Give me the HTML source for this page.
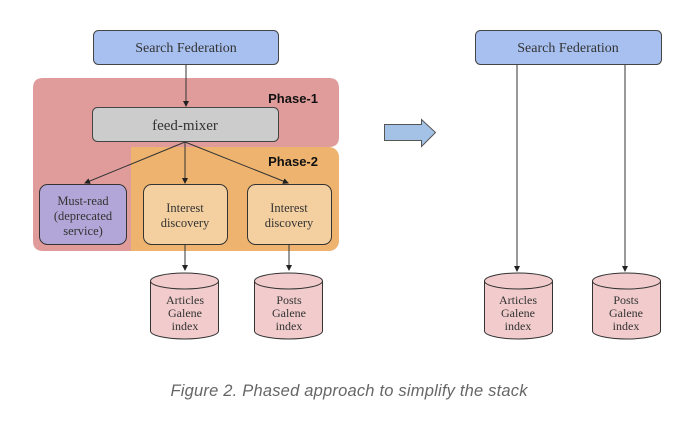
<!DOCTYPE html>
<html><head><meta charset="utf-8"><style>
html,body{margin:0;padding:0;background:#fff;width:695px;height:423px;overflow:hidden}
svg text{font-family:"Liberation Serif",serif;fill:#333}
</style></head><body>
<svg width="695" height="423" viewBox="0 0 695 423" xmlns="http://www.w3.org/2000/svg">
<defs><marker id="a" markerWidth="6" markerHeight="6" refX="5" refY="3" orient="auto" markerUnits="userSpaceOnUse"><path d="M0,0 L6,3 L0,6z" fill="#222"/></marker></defs>
<path d="M43,78 H329 Q339,78 339,88 V137 Q339,147 329,147 H132 V251 H43 Q33,251 33,241 V88 Q33,78 43,78Z" fill="#e09c9b"/>
<rect x="131" y="147" width="208" height="104" rx="10" fill="#eeb46f"/>
<path d="M131,147 H180 V251 H131Z" fill="#eeb46f"/>
<text x="318" y="103" text-anchor="end" style="font-family:'Liberation Sans',sans-serif;font-weight:bold;font-size:13px;fill:#111">Phase-1</text>
<text x="318" y="166" text-anchor="end" style="font-family:'Liberation Sans',sans-serif;font-weight:bold;font-size:13px;fill:#111">Phase-2</text>
<rect x="93.5" y="30.5" width="185" height="34" rx="5" fill="#a8c0f0" stroke="#444"/>
<text x="186" y="52" text-anchor="middle" font-size="14">Search Federation</text>
<line x1="186" y1="65" x2="186" y2="106" stroke="#333" marker-end="url(#a)"/>
<rect x="92.5" y="107.5" width="186" height="34" rx="5" fill="#cccccc" stroke="#444"/>
<text x="185" y="130" text-anchor="middle" font-size="15">feed-mixer</text>
<line x1="185" y1="142" x2="85" y2="183" stroke="#333" marker-end="url(#a)"/>
<line x1="185" y1="142" x2="185" y2="183" stroke="#333" marker-end="url(#a)"/>
<line x1="185" y1="142" x2="288" y2="183" stroke="#333" marker-end="url(#a)"/>
<rect x="39.5" y="184.5" width="87" height="60" rx="8" fill="#b1a6d7" stroke="#333"/>
<text x="83" y="205" text-anchor="middle" font-size="12.5">Must-read</text>
<text x="83" y="220" text-anchor="middle" font-size="12.5">(deprecated</text>
<text x="83" y="235" text-anchor="middle" font-size="12.5">service)</text>
<rect x="143.5" y="184.5" width="84" height="60" rx="8" fill="#f4cfa0" stroke="#333"/>
<text x="185" y="212" text-anchor="middle" font-size="12.5">Interest</text>
<text x="185" y="227" text-anchor="middle" font-size="12.5">discovery</text>
<rect x="247.5" y="184.5" width="84" height="60" rx="8" fill="#f4cfa0" stroke="#333"/>
<text x="289" y="212" text-anchor="middle" font-size="12.5">Interest</text>
<text x="289" y="227" text-anchor="middle" font-size="12.5">discovery</text>
<line x1="185" y1="245" x2="185" y2="270" stroke="#333" marker-end="url(#a)"/>
<line x1="289" y1="245" x2="289" y2="270" stroke="#333" marker-end="url(#a)"/>
<g fill="#f2cccc" stroke="#333">
<path d="M150.5,281 V331 A34,8 0 0 0 218.5,331 V281 A34,8 0 0 0 150.5,281Z"/><path d="M150.5,281 A34,8 0 0 0 218.5,281" fill="none"/>
<path d="M254.5,281 V331 A34,8 0 0 0 322.5,331 V281 A34,8 0 0 0 254.5,281Z"/><path d="M254.5,281 A34,8 0 0 0 322.5,281" fill="none"/>
<path d="M484.5,281 V331 A34,8 0 0 0 552.5,331 V281 A34,8 0 0 0 484.5,281Z"/><path d="M484.5,281 A34,8 0 0 0 552.5,281" fill="none"/>
<path d="M592.5,281 V331 A34,8 0 0 0 660.5,331 V281 A34,8 0 0 0 592.5,281Z"/><path d="M592.5,281 A34,8 0 0 0 660.5,281" fill="none"/>
</g>
<g font-size="12" text-anchor="middle">
<text x="185" y="304">Articles</text><text x="185" y="317">Galene</text><text x="185" y="330">index</text>
<text x="289" y="304">Posts</text><text x="289" y="317">Galene</text><text x="289" y="330">index</text>
<text x="518" y="304">Articles</text><text x="518" y="317">Galene</text><text x="518" y="330">index</text>
<text x="626" y="304">Posts</text><text x="626" y="317">Galene</text><text x="626" y="330">index</text>
</g>
<path d="M384.5,124.5 H421.5 V119.5 L435.5,132.5 L421.5,146.5 V140.5 H384.5Z" fill="#a3c2e6" stroke="#555"/>
<rect x="475.5" y="30.5" width="186" height="34" rx="5" fill="#a8c0f0" stroke="#444"/>
<text x="568" y="52" text-anchor="middle" font-size="14">Search Federation</text>
<line x1="517" y1="65" x2="517" y2="271" stroke="#333" marker-end="url(#a)"/>
<line x1="625" y1="65" x2="625" y2="271" stroke="#333" marker-end="url(#a)"/>
<text x="349" y="396" text-anchor="middle" textLength="357" style="font-family:'Liberation Sans',sans-serif;font-style:italic;font-size:16.5px;fill:#666">Figure 2. Phased approach to simplify the stack</text>
</svg>
</body></html>
